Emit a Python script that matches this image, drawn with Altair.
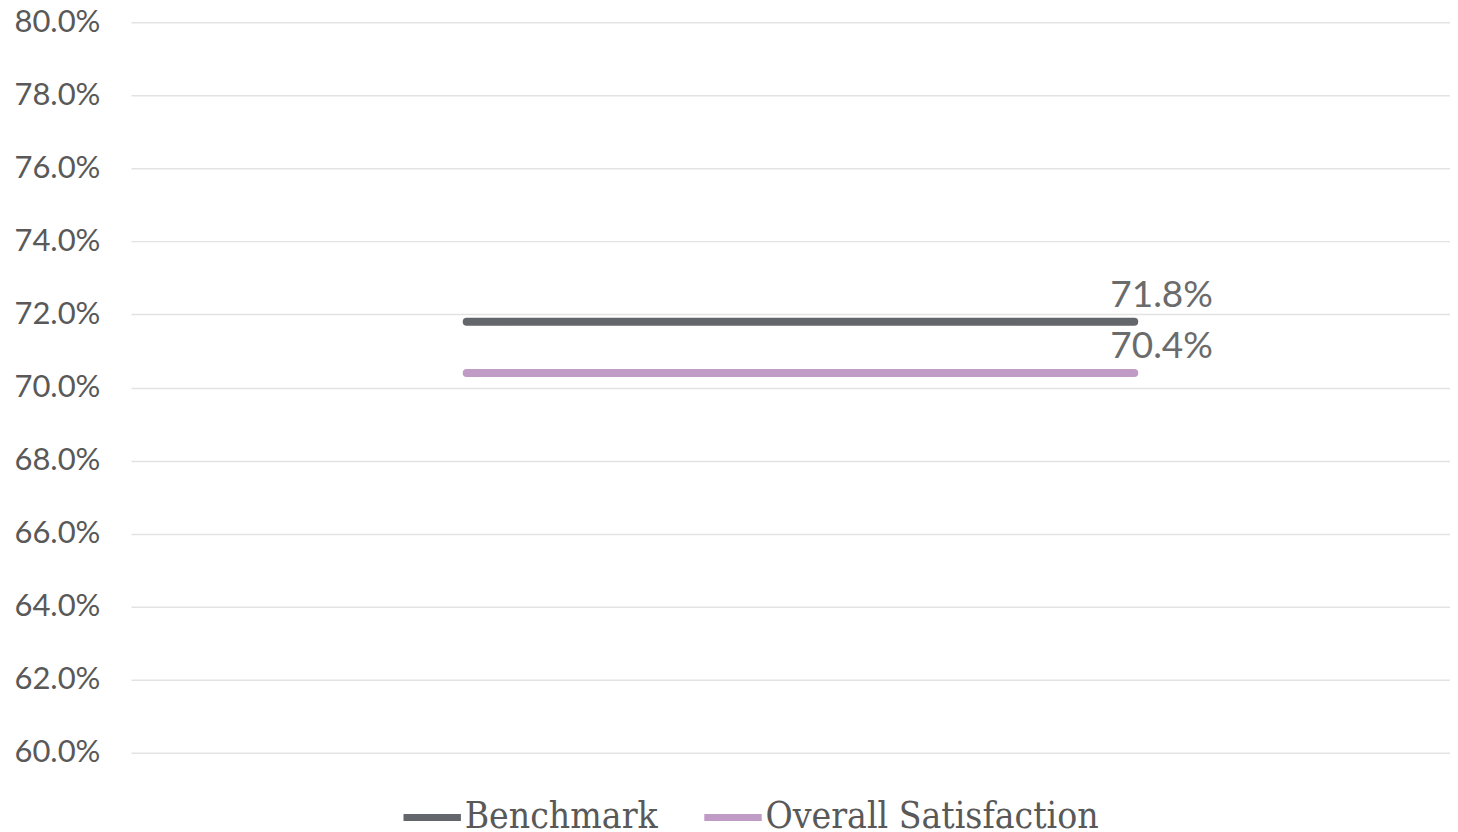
import altair as alt
import pandas as pd

periods = [0, 1]
series = ["Benchmark", "Overall Satisfaction"]
benchmark = [0.718, 0.718]
overall = [0.704, 0.704]
colors = ["#63666A", "#C09BC5"]

rows = []
for i, p in enumerate(periods):
    rows.append({"period": p, "series": series[0], "value": benchmark[i]})
    rows.append({"period": p, "series": series[1], "value": overall[i]})
df = pd.DataFrame(rows)
last = df[df["period"] == periods[-1]]

x = alt.X("period:Q", axis=None,
          scale=alt.Scale(domain=[-0.503, 1.473], nice=False, zero=False))
y = alt.Y("value:Q", scale=alt.Scale(domain=[0.60, 0.80]),
          axis=alt.Axis(format=".1%", values=[0.60 + 0.02 * k for k in range(11)],
                        grid=True, gridColor="#E3E3E3", gridWidth=1.5,
                        domain=False, ticks=False, labelFont="Lato",
                        labelFontSize=31, labelColor="#595959", labelPadding=31,
                        title=None))

lines = alt.Chart(df).mark_line(strokeWidth=8, strokeCap="round").encode(
    x=x, y=y,
    color=alt.Color("series:N", sort=series,
                    scale=alt.Scale(domain=series, range=colors),
                    legend=alt.Legend(orient="none", legendX=269, legendY=763,
                                      direction="horizontal",
                                      title=None, symbolType="stroke",
                                      symbolSize=3300, symbolStrokeWidth=7,
                                      labelFont="DejaVu Serif Condensed, Liberation Serif",
                                      labelFontSize=37,
                                      labelColor="#595959", labelOffset=0,
                                      columnPadding=31,
                                      labelLimit=500)),
    order="period:Q",
)

labels = alt.Chart(last).mark_text(
    align="left", baseline="bottom", dx=-24, dy=-7,
    font="Lato", fontSize=37, color="#6B6B6B"
).encode(x=x, y=y, text=alt.Text("value:Q", format=".1%"))

chart = (lines + labels).properties(
    width=1320, height=731,
    padding={"top": -2, "left": 5, "right": 0, "bottom": 0},
).configure_view(stroke=None)

chart.save("out.html", embed_options={"renderer": "svg", "actions": False})
